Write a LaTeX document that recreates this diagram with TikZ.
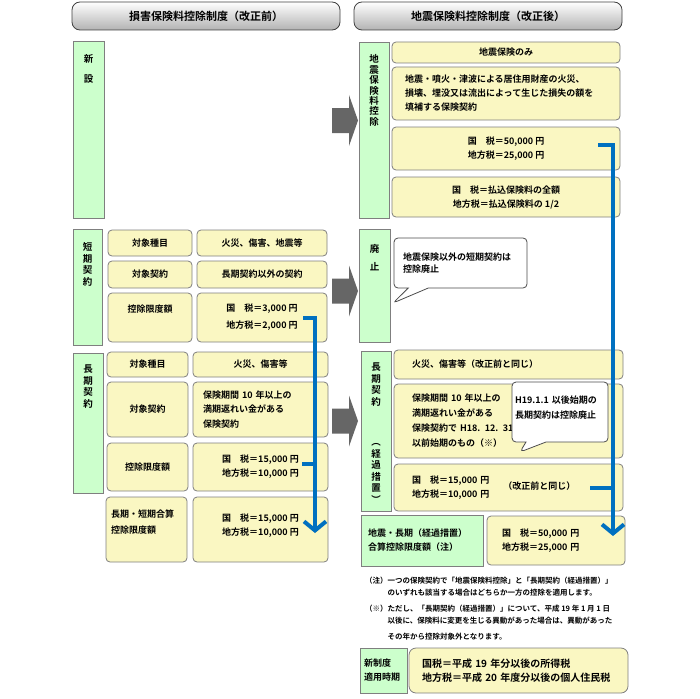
\documentclass[tikz,border=0pt]{standalone}
\usepackage{fontspec}
\setmainfont{Noto Sans CJK JP}[UprightFont={* Bold}]
\usetikzlibrary{arrows.meta}
\usetikzlibrary{shapes.callouts}

\definecolor{boxgreen}{HTML}{CCFFCC}
\definecolor{boxyellow}{HTML}{FAF7C2}
\definecolor{boxline}{HTML}{7F7F7F}
\definecolor{flowblue}{HTML}{0070C0}
\definecolor{arrowgrey}{HTML}{666666}

\tikzset{
  hdr/.style={draw=black!75, line width=0.8pt, rounded corners=8pt, top color=white, bottom color=black!30, font=\fontsize{11}{13}\selectfont, inner sep=0pt},
  gbox/.style={draw=boxline, fill=boxgreen, line width=0.8pt, inner sep=0pt},
  ybox/.style={draw=boxline, fill=boxyellow, line width=0.8pt, rounded corners=4pt, inner sep=0pt, align=center, font=\fontsize{9}{14}\selectfont},
  vlab/.style={font=\fontsize{9.5}{11.5}\selectfont, align=center, inner sep=0pt, anchor=north},
  callbox/.style={rectangle callout, draw=black!70, fill=white, line width=0.8pt, rounded corners=4pt, callout pointer width=20pt, align=left, font=\fontsize{9}{12}\selectfont},
  blueflow/.style={draw=flowblue, line width=4pt},
  blockarr/.style={fill=arrowgrey},
  sz/.style 2 args={minimum width=#1, minimum height=#2},
}

\begin{document}
\begin{tikzpicture}[x=1pt, y=-1pt]
  \useasboundingbox (0,0) rectangle (700,698);
  % headers
  \node[hdr, sz={268}{28}] (hdrOld) at (206,16) {損害保険料控除制度（改正前）};
  \node[hdr, sz={268}{28}] (hdrNew) at (488,16) {地震保険料控除制度（改正後）};

  % before: new
  \node[gbox, sz={31}{177}, label={[vlab, yshift=-14pt, font=\fontsize{9.5}{20}\selectfont]north:{新\\設}}] (oldNew) at (88.5,129.5) {};

  % before: short term
  \node[gbox, sz={29}{116}, label={[vlab, yshift=-14pt]north:{短\\期\\契\\約}}] (oldShort) at (87.5,287) {};
  \node[ybox, sz={84}{26}] (shortItem) at (150,243) {対象種目};
  \node[ybox, sz={130}{26}] (shortItemV) at (262,243) {火災、傷害、地震等};
  \node[ybox, sz={84}{27}] (shortCont) at (150,274.5) {対象契約};
  \node[ybox, sz={130}{27}] (shortContV) at (262,274.5) {長期契約以外の契約};
  \node[ybox, sz={84}{49}, font=\fontsize{9}{17}\selectfont] (shortLim) at (150,317.5) {控除限度額\\\mbox{}};
  \node[ybox, sz={130}{49}, font=\fontsize{9}{17}\selectfont] (shortLimV) at (262,317.5) {国　税＝3,000 円\\地方税＝2,000 円};

  % before: long term
  \node[gbox, sz={30}{140}, label={[vlab, yshift=-12pt]north:{長\\期\\契\\約}}] (oldLong) at (88,423) {};
  \node[ybox, sz={81}{25}] (longItem) at (147.5,364.5) {対象種目};
  \node[ybox, sz={135}{25}] (longItemV) at (260.5,364.5) {火災、傷害等};
  \node[ybox, sz={81}{55}] (longCont) at (147.5,409.5) {対象契約};
  \node[ybox, sz={135}{55}, align=left, inner xsep=10pt, text width=115pt, font=\fontsize{9}{14.5}\selectfont] (longContV) at (260.5,409.5) {保険期間 10 年以上の\\満期返れい金がある\\保険契約};
  \node[ybox, sz={81}{48}] (longLim) at (147.5,467) {控除限度額};
  \node[ybox, sz={135}{48}] (longLimV) at (260.5,467) {国　税＝15,000 円\\地方税＝10,000 円};
  \node[ybox, sz={81}{65}, align=left, inner xsep=5pt, text width=71pt, font=\fontsize{9}{16}\selectfont] (sumOld) at (146.5,529.5) {長期・短期合算\\控除限度額\\\mbox{}};
  \node[ybox, sz={135}{65}] (sumOldV) at (260.5,529.5) {国　税＝15,000 円\\地方税＝10,000 円\\[-5pt]\mbox{}};

  % after: earthquake
  \node[gbox, sz={30}{176}, label={[vlab, yshift=-13pt, font=\fontsize{9.5}{10.4}\selectfont]north:{地\\震\\保\\険\\料\\控\\除}}] (newQuake) at (374,130) {};
  \node[ybox, sz={228}{21}] (quakeOnly) at (506,52.5) {地震保険のみ};
  \node[ybox, sz={228}{53}, align=left, inner xsep=13pt, text width=202pt] (quakeDef) at (506,93.5) {地震・噴火・津波による居住用財産の火災、\\損壊、埋没又は流出によって生じた損失の額を\\填補する保険契約};
  \node[ybox, sz={228}{43}] (quakeMax) at (506,148.5) {国　税＝50,000 円\\地方税＝25,000 円};
  \node[ybox, sz={228}{40}] (quakeAmt) at (506,197) {国　税＝払込保険料の全額\\地方税＝払込保険料の 1/2};

  % after: abolished
  \node[gbox, sz={31}{113}, label={[vlab, yshift=-16pt, font=\fontsize{9.5}{18}\selectfont]north:{廃\\止}}] (newAbol) at (374.5,285.5) {};
  \node[callbox, sz={133}{50}, inner xsep=9pt, text width=115pt, callout absolute pointer={(393,303)}] (tipAbol) at (460.5,263) {地震保険以外の短期契約は\\控除廃止};

  % after: long term (transitional)
  \node[gbox, sz={30}{160}, label={[vlab, yshift=-12pt]north:{長\\期\\契\\約\\[29pt]︵\\経\\過\\措\\置\\︶}}] (newTrans) at (376,431) {};
  \node[ybox, sz={229}{29}, align=left, inner xsep=18pt, text width=193pt] (transItem) at (508.5,364.5) {火災、傷害等（改正前と同じ）};
  \node[ybox, sz={229}{74}, align=left, inner xsep=18pt, text width=193pt, font=\fontsize{9}{15}\selectfont] (transCont) at (508.5,421) {保険期間 10 年以上の\\満期返れい金がある\\保険契約で H18. 12. 31\\以前始期のもの（※）};
  \node[callbox, sz={96}{60}, inner xsep=3pt, text width=90pt, font=\fontsize{9}{15}\selectfont, callout absolute pointer={(520,452)}] (tipLong) at (560,412) {H19.1.1 以後始期の\\長期契約は控除廃止\\[-6pt]\mbox{}};
  \node[ybox, sz={229}{47}, align=left, inner xsep=18pt, text width=193pt] (transLim) at (508.5,487.5) {\begin{tabular}{@{}l@{}}国　税＝15,000 円\\地方税＝10,000 円\end{tabular}\hspace{14pt}（改正前と同じ）};
  \node[gbox, sz={122}{51}, align=left, inner xsep=7pt, text width=108pt, font=\fontsize{9}{14}\selectfont] (sumLbl) at (422,540.5) {地震・長期（経過措置）\\合算控除限度額（注）};
  \node[ybox, sz={138}{49}, align=left, inner xsep=15pt, text width=108pt] (sumVal) at (556,540.5) {国　税＝50,000 円\\地方税＝25,000 円};

  % notes
  \node[anchor=base west, inner sep=0pt, font=\fontsize{7.5}{12}\selectfont] (notes) at (365,583) {\begin{tabular}[t]{@{}l@{}l@{}}（注）& 一つの保険契約で「地震保険料控除」と「長期契約（経過措置）」\\ & のいずれも該当する場合はどちらか一方の控除を適用します。\\[4pt] （※）& ただし、「長期契約（経過措置）」について、平成 19 年 1 月 1 日\\ & 以後に、保険料に変更を生じる異動があった場合は、異動があった\\[4pt] & その年から控除対象外となります。\end{tabular}};

  % start dates
  \node[gbox, sz={47}{45}, align=left, inner xsep=4pt, text width=39pt, font=\fontsize{9}{14}\selectfont] (dateLbl) at (383.5,670.5) {新制度\\適用時期};
  \node[ybox, sz={219}{45}, rounded corners=7pt, align=left, inner xsep=13pt, text width=193pt, font=\fontsize{10}{14}\selectfont] (dateVal) at (518.5,670.5) {国税＝平成 19 年分以後の所得税\\地方税＝平成 20 年度分以後の個人住民税};

  % grey arrows
  \foreach \ay in {120.5,291,421} {
    \fill[blockarr] (332,\ay-12.5) -- (349,\ay-12.5) -- (349,\ay-25.5) -- (358,\ay) -- (349,\ay+25.5) -- (349,\ay+12.5) -- (332,\ay+12.5) -- cycle;
  }

  % blue lines
  \coordinate (flowL0) at (303,318);
  \coordinate (flowL1) at (315,318);
  \coordinate (flowL2) at (315,533);
  \coordinate (tickL) at (302,464);
  \coordinate (flowR0) at (598,145);
  \coordinate (flowR1) at (613,145);
  \coordinate (flowR2) at (613,536);
  \coordinate (tickR) at (590,488);
  \draw[blueflow, -{Straight Barb[length=9pt, width=22pt]}] (flowL0) -- (flowL1) -- (flowL2);
  \draw[blueflow] (tickL) -- (tickL -| flowL1);
  \draw[blueflow, -{Straight Barb[length=9pt, width=22pt]}] (flowR0) -- (flowR1) -- (flowR2);
  \draw[blueflow] (tickR) -- (tickR -| flowR1);
\end{tikzpicture}
\end{document}
